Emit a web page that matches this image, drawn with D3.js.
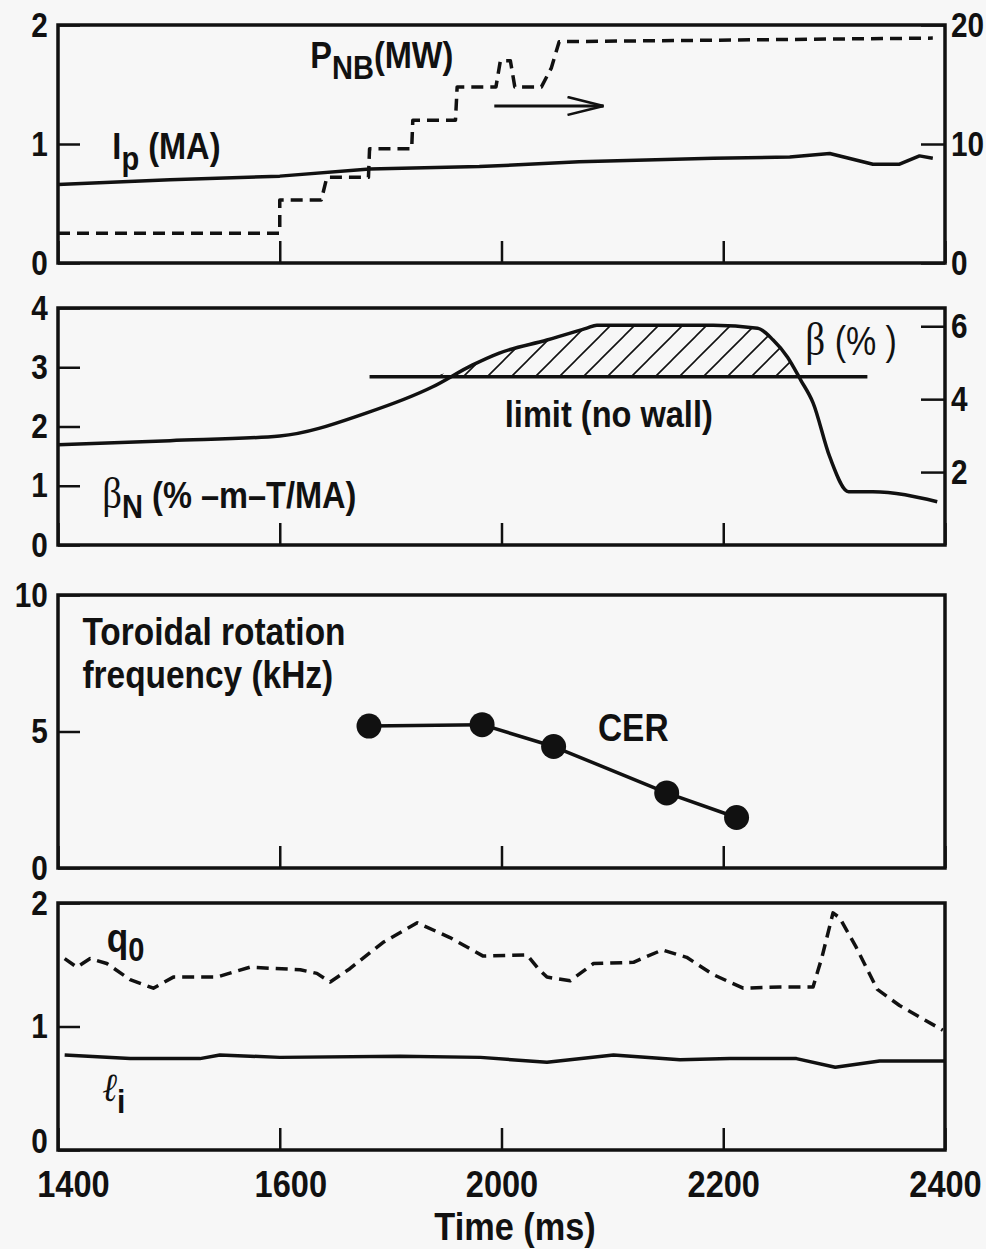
<!DOCTYPE html>
<html>
<head>
<meta charset="utf-8">
<script src="https://cdn.jsdelivr.net/npm/d3@7"></script>
<style>
  body { margin: 0; background: #f7f7f7; }
  svg { display: block; }
  text { font-family: "Liberation Sans", Arial, sans-serif; font-weight: bold; fill: #111; }
  .tick line { stroke: #111; stroke-width: 2.5; }
  .domain { display: none; }
</style>
</head>
<body>
<div id="chart"></div>
<script>
// x ticks as printed on the figure (equally spaced)
const timeTicks = [1400, 1600, 2000, 2200, 2400];

// panel 1: plasma current (MA) and beam power (MW)
const ipTime = [1400, 1501, 1600, 1762, 1960, 2070, 2191, 2260, 2296, 2335, 2359, 2377, 2389];
const ipVal  = [0.66, 0.70, 0.73, 0.79, 0.81, 0.85, 0.88, 0.89, 0.92, 0.83, 0.83, 0.90, 0.88];
const pnbTime = [1400, 1600, 1600, 1675, 1685, 1760, 1762, 1838, 1840, 1917, 1920, 1990, 1998, 2008, 2012, 2036, 2045, 2052, 2389];
const pnbVal  = [2.5, 2.5, 5.3, 5.3, 7.2, 7.2, 9.6, 9.6, 12.0, 12.0, 14.8, 14.8, 17.0, 17.0, 14.8, 14.8, 16.4, 18.6, 18.9];
const arrowTime = [1987, 2092];
const arrowVal = [13.2, 13.2];

// panel 2: normalized beta
const betaTime = [1400, 1501, 1600, 1757, 1876, 1948, 1996, 2041, 2077, 2086, 2136, 2191, 2231, 2245, 2258, 2270, 2281, 2296, 2313, 2335, 2393];
const betaVal  = [1.69, 1.76, 1.84, 2.23, 2.67, 3.04, 3.24, 3.46, 3.66, 3.71, 3.71, 3.71, 3.66, 3.46, 3.17, 2.78, 2.40, 1.49, 0.90, 0.90, 0.73];
const limitTime = [1762, 2330];
const limitVal = 2.84;

// panel 3: toroidal rotation (CER)
const cerTime = [1761, 1965, 2047, 2149, 2212];
const cerVal  = [5.2, 5.25, 4.45, 2.75, 1.85];

// panel 4: q0 and li
const q0Time = [1406, 1417, 1429, 1444, 1465, 1486, 1504, 1543, 1573, 1637, 1667, 1691, 1727, 1786, 1848, 1907, 1967, 2023, 2033, 2041, 2062, 2083, 2119, 2145, 2167, 2191, 2218, 2251, 2281, 2289, 2299, 2305, 2320, 2339, 2359, 2398];
const q0Val  = [1.55, 1.48, 1.55, 1.51, 1.38, 1.31, 1.40, 1.40, 1.48, 1.46, 1.43, 1.36, 1.47, 1.68, 1.84, 1.72, 1.57, 1.58, 1.47, 1.40, 1.37, 1.51, 1.52, 1.62, 1.56, 1.42, 1.31, 1.32, 1.32, 1.56, 1.92, 1.88, 1.64, 1.30, 1.17, 0.97];
const liTime = [1406, 1465, 1528, 1546, 1600, 1817, 1962, 2041, 2101, 2161, 2206, 2266, 2301, 2341, 2400];
const liVal  = [0.77, 0.74, 0.74, 0.77, 0.75, 0.76, 0.75, 0.71, 0.77, 0.73, 0.74, 0.74, 0.67, 0.72, 0.72];

const [width, height] = [986, 1249];
const left = 58, right = 945;
const svg = d3.select("#chart").append("svg").attr("width", width).attr("height", height);

const defs = svg.append("defs");
const hatch = defs.append("pattern").attr("id", "hatch").attr("patternUnits", "userSpaceOnUse")
  .attr("width", 24).attr("height", 24);
hatch.append("path").attr("d", "M-6,6 L6,-6 M0,24 L24,0 M18,30 L30,18")
  .attr("stroke", "#111").attr("stroke-width", 1.6);
defs.append("marker").attr("id", "arrowhead").attr("viewBox", "-20 0 40 20").attr("refX", 19).attr("refY", 10)
  .attr("markerWidth", 40).attr("markerHeight", 20).attr("markerUnits", "userSpaceOnUse").attr("orient", "auto")
  .append("path").attr("d", "M-17,1 L19,10 L-17,19").attr("fill", "none").attr("stroke", "#111").attr("stroke-width", 2.5);

const x = d3.scaleLinear().domain(timeTicks).range(timeTicks.map((d, i) => left + i * (right - left) / 4));

// squeeze text horizontally to get the condensed look
const squeeze = (sel, sx) => sel.attr("transform", `scale(${sx},1)`);

const panel = (top, bottom, domainL, ticksL, domainR, ticksR, showLabels) => {
  const yL = d3.scaleLinear().domain(domainL).range([bottom, top]);
  const yR = domainR ? d3.scaleLinear().domain(domainR).range([bottom, top]) : null;
  const g = svg.append("g");
  const ya = g.append("g").attr("transform", `translate(${left},0)`)
    .call(d3.axisLeft(yL).tickValues(ticksL).tickSize(-22).tickPadding(12).tickFormat(d3.format("d")));
  squeeze(ya.selectAll("text").style("font-size", "35px").style("font-family", null), 0.85);
  // the bottom panel's zero sits a little higher, clear of the time labels
  if (showLabels) ya.selectAll("text").filter(d => d === 0).attr("y", -9);
  if (yR) {
    g.append("g").attr("transform", `translate(${right},0)`)
      .call(d3.axisRight(yR).tickValues(ticksR).tickSize(-24).tickPadding(7).tickFormat(d3.format("d")))
      .call(a => squeeze(a.selectAll("text").style("font-size", "35px").style("font-family", null), 0.85));
  }
  const xa = g.append("g").attr("transform", `translate(0,${bottom})`)
    .call(d3.axisBottom(x).tickValues(timeTicks).tickSize(-22).tickPadding(21)
      .tickFormat(showLabels ? d3.format("d") : ""));
  squeeze(xa.selectAll("text").style("font-size", "37px").style("font-family", null), 0.88)
    .attr("dx", (d, i) => i === 0 ? 17 : i === 1 ? 12 : 0);
  g.append("rect").attr("x", left).attr("y", top).attr("width", right - left).attr("height", bottom - top)
    .attr("fill", "none").attr("stroke", "#111").attr("stroke-width", 3.5);
  return { g, yL, yR };
};

const lineOf = (xs, ys, y) => d3.line().x((d, i) => x(xs[i])).y((d, i) => y(ys[i]))(ys);
const solid = (g, d) => g.append("path").attr("d", d).attr("fill", "none").attr("stroke", "#111")
  .attr("stroke-width", 3.5).attr("stroke-linejoin", "round");
const dashed = (g, d) => solid(g, d).attr("stroke-dasharray", "12,7");
const label = (g, px, py, parts, size, sx = 0.88) => {
  const t = g.append("text").attr("transform", `translate(${px},${py}) scale(${sx},1)`).style("font-size", size + "px");
  parts.forEach(p => {
    const s = t.append("tspan").text(p.t);
    if (p.dy) s.attr("dy", p.dy);
    if (p.size) s.style("font-size", p.size + "px");
    if (p.font) s.style("font-family", p.font).style("font-weight", p.weight || "normal");
    if (p.style) s.style("font-style", p.style);
  });
  return t;
};

// ---- panel 1
const p1 = panel(25, 263, [0, 2], [0, 1, 2], [0, 20], [0, 10, 20], false);
solid(p1.g, lineOf(ipTime, ipVal, p1.yL));
dashed(p1.g, lineOf(pnbTime, pnbVal, p1.yR));
p1.g.append("path").attr("d", lineOf(arrowTime, arrowVal, p1.yR)).attr("stroke", "#111").attr("stroke-width", 3)
  .attr("marker-end", "url(#arrowhead)");
label(p1.g, x(1449), p1.yL(0.87), [{ t: "I" }, { t: "p", dy: 11, size: 33 }, { t: " (MA)", dy: -11 }], 37);
label(p1.g, x(1655), p1.yL(1.64), [{ t: "P" }, { t: "NB", dy: 11, size: 33 }, { t: "(MW)", dy: -11 }], 37);

// ---- panel 2
const p2 = panel(308, 545, [0, 4], [0, 1, 2, 3, 4], [0, 6.5], [2, 4, 6], false);
const area = d3.area().x((d, i) => x(betaTime[i])).y0(p2.yL(limitVal))
  .y1((d, i) => p2.yL(Math.max(d, limitVal)));
p2.g.append("path").attr("d", area(betaVal)).attr("fill", "url(#hatch)");
solid(p2.g, lineOf(limitTime, [limitVal, limitVal], p2.yL));
solid(p2.g, d3.line().curve(d3.curveMonotoneX).x((d, i) => x(betaTime[i])).y(d => p2.yL(d))(betaVal));
label(p2.g, x(2003), p2.yL(2.0), [{ t: "limit (no wall)" }], 37);
label(p2.g, x(2274), p2.yL(3.2), [{ t: "β", font: "Liberation Serif", size: 46 }, { t: " (% )", font: "Liberation Sans", size: 40 }], 40, 0.85);
label(p2.g, x(1440), p2.yL(0.62), [{ t: "β", font: "Liberation Serif", size: 44 }, { t: "N", dy: 10, size: 33 }, { t: " (% –m–T/MA)", dy: -10 }], 37);

// ---- panel 3
const p3 = panel(595, 868, [0, 10], [0, 5, 10], null, null, false);
solid(p3.g, lineOf(cerTime, cerVal, p3.yL));
p3.g.selectAll("circle").data(cerVal).enter().append("circle")
  .attr("cx", (d, i) => x(cerTime[i])).attr("cy", d => p3.yL(d)).attr("r", 12.5).attr("fill", "#111");
label(p3.g, x(1422), p3.yL(8.17), [{ t: "Toroidal rotation" }], 38);
label(p3.g, x(1422), p3.yL(6.6), [{ t: "frequency (kHz)" }], 38);
label(p3.g, x(2087), p3.yL(4.65), [{ t: "CER" }], 38);

// ---- panel 4
const p4 = panel(903, 1150, [0, 2], [0, 1, 2], null, null, true);
dashed(p4.g, lineOf(q0Time, q0Val, p4.yL));
solid(p4.g, lineOf(liTime, liVal, p4.yL));
label(p4.g, x(1444), p4.yL(1.6), [{ t: "q" }, { t: "0", dy: 9, size: 33 }], 40);
label(p4.g, x(1440), p4.yL(0.40), [{ t: "ℓ", font: "DejaVu Serif", style: "italic", size: 40 }, { t: "i", dy: 12, size: 34 }], 37);

svg.append("text").attr("transform", `translate(515,1240) scale(0.88,1)`).attr("text-anchor", "middle")
  .style("font-size", "39px").text("Time (ms)");
</script>
</body>
</html>
